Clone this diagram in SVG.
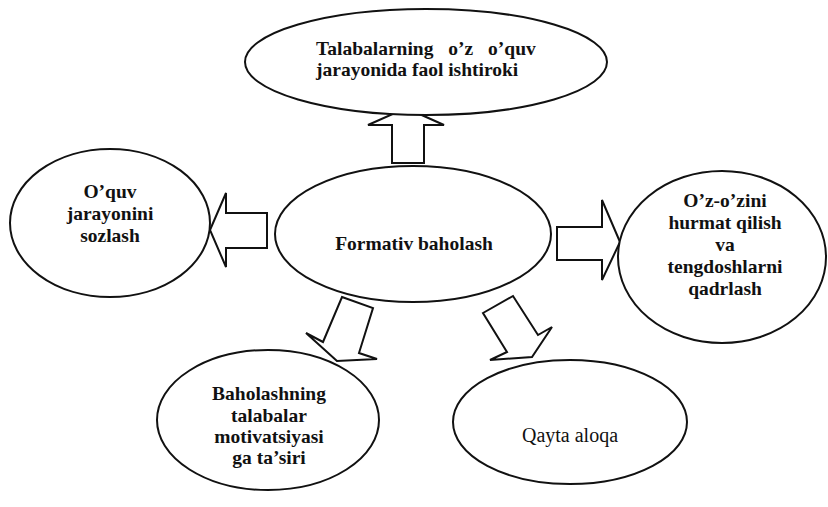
<svg xmlns="http://www.w3.org/2000/svg" width="828" height="507" viewBox="0 0 828 507">
<style>
.node ellipse{fill:#fff;stroke:#111;stroke-width:2}
.arr{fill:#fff;stroke:#111;stroke-width:2;stroke-linejoin:miter}
.c{text-anchor:middle}
</style>
<rect width="828" height="507" fill="#fff"/>
<g id="connectors">
<polygon class="arr" points="406,108 444,125 424,125 424,163 392,163 392,125 368,125"/>
<polygon class="arr" points="210,230 226,193 226,213 267,213 267,248 226,248 226,267"/>
<polygon class="arr" points="620,242 602,200 602,227 557,227 557,260 602,260 602,280"/>
<polygon class="arr" points="342,297 373,308 359,353 377,359 337,361 306,333 323,342"/>
<polygon class="arr" points="483,313 513,296 538,335 552,327 532,357 490,360 507,352"/>
</g>
<g id="top" class="node">
<ellipse cx="426" cy="62" rx="181" ry="53"/>
<text x="316" y="55" word-spacing="10" font-family="'Liberation Serif', serif" font-size="19.5" font-weight="bold" fill="#111">Talabalarning o’z o’quv</text>
<text x="316" y="76" font-family="'Liberation Serif', serif" font-size="19.5" font-weight="bold" fill="#111">jarayonida faol ishtiroki</text>
</g>
<g id="center" class="node">
<ellipse cx="413" cy="234" rx="138" ry="68"/>
<text class="c" x="414" y="250" font-family="'Liberation Serif', serif" font-size="19.5" font-weight="bold" fill="#111">Formativ baholash</text>
</g>
<g id="left" class="node">
<ellipse cx="110" cy="223" rx="100" ry="74"/>
<text class="c" x="110" y="198" font-family="'Liberation Serif', serif" font-size="19.5" font-weight="bold" fill="#111">O’quv</text>
<text class="c" x="110" y="220" font-family="'Liberation Serif', serif" font-size="19.5" font-weight="bold" fill="#111">jarayonini</text>
<text class="c" x="110" y="242" font-family="'Liberation Serif', serif" font-size="19.5" font-weight="bold" fill="#111">sozlash</text>
</g>
<g id="right" class="node">
<ellipse cx="722" cy="257" rx="104" ry="86"/>
<text class="c" x="725" y="207" font-family="'Liberation Serif', serif" font-size="19.5" font-weight="bold" fill="#111">O’z-o’zini</text>
<text class="c" x="725" y="229" font-family="'Liberation Serif', serif" font-size="19.5" font-weight="bold" fill="#111">hurmat qilish</text>
<text class="c" x="725" y="251" font-family="'Liberation Serif', serif" font-size="19.5" font-weight="bold" fill="#111">va</text>
<text class="c" x="725" y="273" font-family="'Liberation Serif', serif" font-size="19.5" font-weight="bold" fill="#111">tengdoshlarni</text>
<text class="c" x="725" y="295" font-family="'Liberation Serif', serif" font-size="19.5" font-weight="bold" fill="#111">qadrlash</text>
</g>
<g id="bottomleft" class="node">
<ellipse cx="268" cy="420" rx="111" ry="70"/>
<text class="c" x="269" y="400" font-family="'Liberation Serif', serif" font-size="19.5" font-weight="bold" fill="#111">Baholashning</text>
<text class="c" x="269" y="422" font-family="'Liberation Serif', serif" font-size="19.5" font-weight="bold" fill="#111">talabalar</text>
<text class="c" x="269" y="443" font-family="'Liberation Serif', serif" font-size="19.5" font-weight="bold" fill="#111">motivatsiyasi</text>
<text class="c" x="269" y="464" font-family="'Liberation Serif', serif" font-size="19.5" font-weight="bold" fill="#111">ga ta’siri</text>
</g>
<g id="bottomright" class="node">
<ellipse cx="570" cy="422" rx="117" ry="62"/>
<text class="c" x="570" y="442" font-family="'Liberation Serif', serif" font-size="20" fill="#111">Qayta aloqa</text>
</g>
</svg>
